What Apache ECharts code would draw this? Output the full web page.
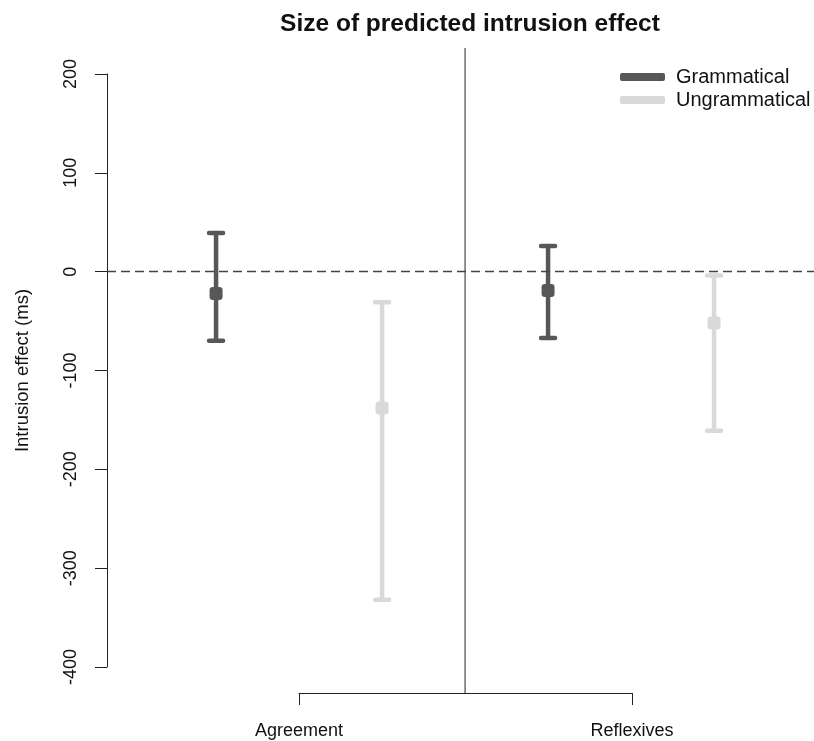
<!DOCTYPE html>
<html>
<head>
<meta charset="utf-8">
<script src="https://cdn.jsdelivr.net/npm/echarts@6/dist/echarts.min.js"></script>
<style>
  html, body { margin: 0; padding: 0; background: #fff; }
  #chart { width: 814px; height: 741px; }
</style>
</head>
<body>
<div id="chart"></div>
<script>
// data
var groups = ['Agreement', 'Reflexives'];
var conditions = ['Grammatical', 'Ungrammatical'];
var gramPos = [1, 3];
var gramMean = [-22, -19];
var gramLow = [-70, -67];
var gramHigh = [39, 26];
var ungramPos = [2, 4];
var ungramMean = [-138, -52];
var ungramLow = [-332, -161];
var ungramHigh = [-31, -4];
var dividerPos = 2.5;

var dark = '#575757';
var light = '#d9d9d9';
var font = 'Liberation Sans, Arial, sans-serif';

function barData(pos, low, high) {
    return pos.map(function (p, i) { return [p, low[i], high[i]]; });
}
function pointData(pos, mean) {
    return pos.map(function (p, i) { return [p, mean[i]]; });
}

// vertical bar + two caps, placed through the axis scales
function errorBars(color) {
    return function (params, api) {
        var x = api.value(0);
        var top = api.coord([x, api.value(2)]);
        var bot = api.coord([x, api.value(1)]);
        var hw = 7;
        var st = { stroke: color, lineWidth: 4.5, lineCap: 'round' };
        return {
            type: 'group',
            children: [
                { type: 'line', shape: { x1: top[0], y1: top[1], x2: bot[0], y2: bot[1] }, style: st },
                { type: 'line', shape: { x1: top[0] - hw, y1: top[1], x2: top[0] + hw, y2: top[1] }, style: st },
                { type: 'line', shape: { x1: bot[0] - hw, y1: bot[1], x2: bot[0] + hw, y2: bot[1] }, style: st }
            ]
        };
    };
}

var myChart = echarts.init(document.getElementById('chart'));

var option = {
    animation: false,
    textStyle: { fontFamily: font },
    title: {
        text: 'Size of predicted intrusion effect',
        left: 465,
        textAlign: 'center',
        top: 7,
        textStyle: { fontFamily: font, fontSize: 24.5, fontWeight: 'bold', color: '#111' }
    },
    legend: {
        orient: 'vertical',
        left: 615,
        top: 62,
        itemWidth: 45,
        itemHeight: 8,
        itemGap: 3,
        textStyle: { fontFamily: font, fontSize: 20, color: '#111', padding: [0, 0, 0, 6] },
        data: [
            { name: conditions[0], icon: 'roundRect', itemStyle: { color: dark } },
            { name: conditions[1], icon: 'roundRect', itemStyle: { color: light } }
        ]
    },
    grid: [
        { left: 107, right: 0, top: 74, bottom: 74, outerBoundsMode: 'none', containLabel: false },
        { left: 107, right: 0, top: 48, bottom: 48, outerBoundsMode: 'none', containLabel: false },
        { left: 299, right: 182, top: 600, bottom: 48, outerBoundsMode: 'none', containLabel: false }
    ],
    xAxis: [
        { gridIndex: 0, type: 'value', min: 0.343, max: 4.602, show: false },
        { gridIndex: 1, type: 'value', min: 0.343, max: 4.602, show: false },
        {
            gridIndex: 2, type: 'category', data: groups, boundaryGap: false,
            axisLine: { lineStyle: { color: '#222', width: 1 } },
            axisTick: { length: 12, lineStyle: { color: '#222' } },
            axisLabel: { margin: 29, fontFamily: font, fontSize: 18, color: '#111' }
        }
    ],
    yAxis: [
        {
            gridIndex: 0, type: 'value', min: -400, max: 200, interval: 100,
            name: 'Intrusion effect (ms)', nameLocation: 'middle', nameGap: 75, nameRotate: 90,
            nameTextStyle: { fontFamily: font, fontSize: 18.5, color: '#111' },
            axisLine: { show: true, lineStyle: { color: '#222', width: 1 } },
            axisTick: { show: true, length: 12, lineStyle: { color: '#222' } },
            axisLabel: { rotate: 90, margin: 27, fontFamily: font, fontSize: 18, color: '#111' },
            splitLine: { show: false }
        },
        { gridIndex: 1, type: 'value', min: 0, max: 1, show: false },
        { gridIndex: 2, type: 'value', show: false }
    ],
    series: [
        {
            name: conditions[0], type: 'custom', xAxisIndex: 0, yAxisIndex: 0,
            itemStyle: { color: dark },
            renderItem: errorBars(dark),
            data: barData(gramPos, gramLow, gramHigh),
            z: 3
        },
        {
            name: conditions[1], type: 'custom', xAxisIndex: 0, yAxisIndex: 0,
            itemStyle: { color: light },
            renderItem: errorBars(light),
            data: barData(ungramPos, ungramLow, ungramHigh),
            z: 3
        },
        {
            name: conditions[0], type: 'scatter', xAxisIndex: 0, yAxisIndex: 0,
            symbol: 'roundRect', symbolSize: 13,
            itemStyle: { color: dark, opacity: 1 },
            data: pointData(gramPos, gramMean),
            z: 4,
            markLine: {
                silent: true, symbol: 'none', label: { show: false },
                lineStyle: { color: '#444', type: [9, 5], width: 1.3 },
                data: [{ yAxis: 0 }]
            }
        },
        {
            name: conditions[1], type: 'scatter', xAxisIndex: 0, yAxisIndex: 0,
            symbol: 'roundRect', symbolSize: 13,
            itemStyle: { color: light, opacity: 1 },
            data: pointData(ungramPos, ungramMean),
            z: 4
        },
        {
            type: 'line', xAxisIndex: 1, yAxisIndex: 1,
            symbol: 'none', silent: true,
            lineStyle: { color: '#222', width: 1 },
            data: [[dividerPos, 0], [dividerPos, 1]]
        }
    ]
};

myChart.setOption(option);
window.addEventListener('resize', function () {
    myChart.resize();
});
</script>
</body>
</html>
